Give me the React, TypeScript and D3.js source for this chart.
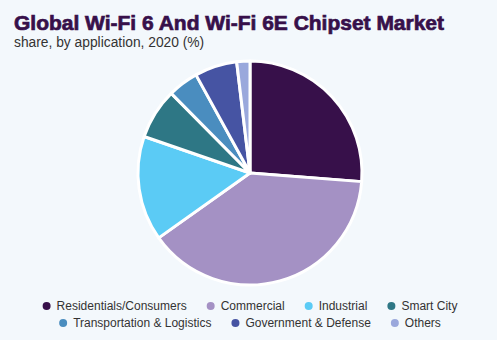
import React, { useEffect, useRef } from "react";
import * as d3 from "d3";

const categories = [
  "Residentials/Consumers",
  "Commercial",
  "Industrial",
  "Smart City",
  "Transportation & Logistics",
  "Government & Defense",
  "Others",
];
const shares = [26.2, 38.9, 15.1, 7.3, 4.4, 6.1, 1.9];
const colors = ["#37104a", "#a491c4", "#5bcbf5", "#2e7785", "#4a8dbf", "#4654a3", "#9aa8dc"];
const legendRows = [[0, 1, 2, 3], [4, 5, 6]];

const W = 497;
const H = 340;

export default function App() {
  const ref = useRef<SVGSVGElement>(null);
  useEffect(() => {
    const svg = d3.select(ref.current);
    svg.selectAll("*").remove();
    svg.append("rect").attr("width", W).attr("height", H).attr("fill", "#f3f8fc");

    svg.append("text").attr("x", 14).attr("y", 30)
      .attr("font-family", "Liberation Sans, Arial, sans-serif").attr("font-weight", "bold")
      .attr("font-size", 20.8).attr("fill", "#37104a")
      .attr("stroke", "#37104a").attr("stroke-width", 0.7)
      .attr("textLength", 430).attr("lengthAdjust", "spacingAndGlyphs")
      .text("Global Wi-Fi 6 And Wi-Fi 6E Chipset Market");
    svg.append("text").attr("x", 14).attr("y", 47)
      .attr("font-family", "Liberation Sans, Arial, sans-serif")
      .attr("font-size", 13.8).attr("fill", "#333")
      .text("share, by application, 2020 (%)");

    const data = categories.map((c, i) => ({ c, v: shares[i], col: colors[i] }));
    const pie = d3.pie<any>().value((d) => d.v).sort(null);
    const arc = d3.arc<any>().innerRadius(0).outerRadius(112);
    const g = svg.append("g").attr("transform", "translate(250,173)");
    g.selectAll("path").data(pie(data)).enter().append("path")
      .attr("d", arc as any).attr("fill", (d: any) => d.data.col)
      .attr("stroke", "#fff").attr("stroke-width", 3).attr("stroke-linejoin", "round");

    const rowY = [306, 323];
    legendRows.forEach((row, ri) => {
      const lg = svg.append("g");
      let x = 0;
      row.forEach((idx) => {
        const item = lg.append("g").attr("transform", `translate(${x},${rowY[ri]})`);
        item.append("circle").attr("cx", 0).attr("cy", 0).attr("r", 4).attr("fill", colors[idx]);
        const t = item.append("text").attr("x", 10).attr("y", 4.3)
          .attr("font-family", "Liberation Sans, Arial, sans-serif")
          .attr("font-size", 12).attr("fill", "#333").text(categories[idx]);
        const w = (t.node() as SVGTextElement).getComputedTextLength();
        x += 10 + w + 24;
      });
      const total = x - 24 + 4;
      lg.attr("transform", `translate(${250 - total / 2 + 4},0)`);
    });
  }, []);
  return <svg ref={ref} width={W} height={H} style={{ display: "block", position: "fixed", left: 0, top: 0 }} />;
}
